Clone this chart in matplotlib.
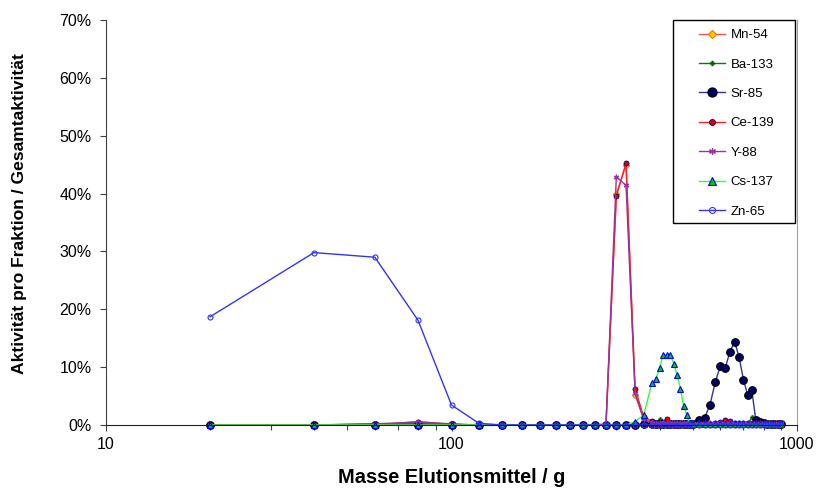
import matplotlib
matplotlib.use("Agg")
import matplotlib.pyplot as plt
from matplotlib.ticker import FuncFormatter, FixedLocator, NullFormatter
from matplotlib.patches import Rectangle

plt.rcParams["font.family"] = ["Liberation Sans", "DejaVu Sans"]

# fraction masses (g)
masse = ([20, 40, 60, 80, 100, 120, 140, 160, 180, 200, 220, 240, 260, 280,
          300, 320, 340, 360, 380]
         + [390, 400, 410, 420, 430, 440, 450, 460, 470, 480, 490, 500]
         + [520, 540, 560, 580, 600, 620, 640, 660, 680, 700, 720, 740, 760,
            780, 800, 820, 840, 860, 880, 900])

# activity per fraction / total activity (%)
mn54 = ([0, 0, 0, 0.3, 0.1, 0, 0, 0, 0, 0, 0, 0, 0, 0.1,
         40.0, 44.9, 5.2, 1.0, 0.5]
        + [0.3, 0.2, 0.2, 0.2, 0.2, 0.2, 0.2, 0.2, 0.2, 0.2, 0.2, 0.2]
        + [0.2, 0.2, 0.2, 0.2, 0.2, 0.3, 0.3, 0.2, 0.2, 0.2, 0.2, 0.2, 0.2,
           0.2, 0.2, 0.2, 0.2, 0.2, 0.2, 0.2])
ba133 = ([0, 0, 0.2, 0.2, 0.1, 0, 0, 0, 0, 0, 0, 0, 0, 0,
          0, 0, 0.1, 0.1, 0.1]
         + [0.1, 1.0, 0.2, 0.1, 0.1, 0.1, 0.1, 0.1, 0.1, 0.1, 0.1, 0.1]
         + [0.1, 0.1, 0.1, 0.1, 0.1, 0.1, 0.1, 0.1, 0.1, 0.1, 0.1, 1.3, 0.2,
            0.1, 0.1, 0.1, 0.1, 0.1, 0.1, 0.1])
sr85 = ([0, 0, 0, 0, 0, 0, 0, 0, 0, 0, 0, 0, 0, 0,
         0, 0, 0, 0.1, 0.1]
        + [0.1, 0.1, 0.1, 0.1, 0.1, 0.1, 0.1, 0.1, 0.1, 0.1, 0.1, 0.2]
        + [0.8, 1.2, 3.5, 7.4, 10.2, 9.9, 12.7, 14.4, 11.7, 7.8, 5.2, 6.0, 0.8,
           0.5, 0.3, 0.2, 0.2, 0.2, 0.2, 0.2])
ce139 = ([0, 0, 0, 0.6, 0.1, 0, 0, 0, 0, 0, 0, 0, 0, 0.1,
          39.5, 45.3, 6.3, 1.4, 0.7]
         + [0.4, 0.3, 0.5, 1.1, 0.3, 0.2, 0.2, 0.2, 0.2, 0.2, 0.2, 0.2]
         + [0.2, 0.2, 0.2, 0.3, 0.5, 0.9, 0.7, 0.3, 0.3, 0.3, 0.3, 0.3, 0.3,
            0.3, 0.3, 0.2, 0.2, 0.2, 0.2, 0.2])
y88 = ([0, 0, 0.2, 0.5, 0.2, 0, 0, 0, 0, 0, 0, 0, 0, 0.2,
        42.9, 41.4, 5.5, 1.0, 0.4]
       + [0.3, 0.3, 0.3, 0.3, 0.3, 0.3, 0.3, 0.3, 0.3, 0.3, 0.3, 0.3]
       + [0.3, 0.3, 0.3, 0.3, 0.3, 0.3, 0.3, 0.3, 0.3, 0.3, 0.3, 0.3, 0.3,
          0.3, 0.3, 0.3, 0.3, 0.3, 0.3, 0.3])
cs137 = ([0, 0, 0, 0, 0, 0, 0, 0, 0, 0, 0, 0, 0, 0,
          0, 0, 0.6, 1.7, 7.2]
         + [7.9, 9.8, 12.1, 12.1, 12.1, 10.6, 8.6, 6.2, 3.2, 1.7, 0.3, 0.1]
         + [0.1, 0.1, 0.1, 0.1, 0.1, 0.1, 0.1, 0.1, 0.1, 0.1, 0.1, 0.1, 0.1,
            0.1, 0.1, 0.1, 0.1, 0.1, 0.1, 0.1])
zn65 = ([18.7, 29.8, 29.0, 18.1, 3.45, 0.3, 0, 0, 0, 0, 0, 0, 0, 0,
         0, 0, 0, 0, 0]
        + [0, 0, 0, 0, 0, 0, 0, 0, 0, 0, 0, 0]
        + [0, 0, 0, 0, 0, 0, 0, 0, 0, 0, 0, 0, 0,
           0, 0, 0, 0, 0, 0, 0])

serien = [
    ("Mn-54", mn54, dict(color="#FF5050", marker="D", ms=3.2, mfc="#FFD000", mec="#FF7000", mew=0.8)),
    ("Ba-133", ba133, dict(color="#008000", marker="P", ms=3.0, mfc="#006000", mec="#006000", mew=0.3)),
    ("Sr-85", sr85, dict(color="#333399", marker="o", ms=5.5, mfc="#000066", mec="#000000", mew=0.8)),
    ("Ce-139", ce139, dict(color="#FF2020", marker="o", ms=3.6, mfc="#E00000", mec="#000080", mew=0.6)),
    ("Y-88", y88, dict(color="#993399", marker=(6, 2, 0), ms=4.0, mfc="#993399", mec="#993399", mew=0.9)),
    ("Cs-137", cs137, dict(color="#33FF33", marker="^", ms=4.5, mfc="#00CC00", mec="#0000FF", mew=0.8)),
    ("Zn-65", zn65, dict(color="#3333FF", marker="o", ms=3.6, mfc="none", mec="#3333FF", mew=0.8)),
]

fig = plt.figure(figsize=(8.17, 4.95), dpi=100)
ax = fig.add_axes([106 / 817, 1 - 425 / 495, (797 - 106) / 817, (425 - 20) / 495])

for name, werte, stil in serien:
    ax.plot(masse, werte, lw=1.0, label=name, clip_on=False, **stil)

ax.set_xscale("log")
ax.set_xlim(10, 1000)
ax.set_ylim(0, 70)
ax.yaxis.set_major_locator(FixedLocator(range(0, 71, 10)))
ax.yaxis.set_major_formatter(FuncFormatter(lambda v, p: f"{v:.0f}%"))
ax.xaxis.set_major_formatter(FuncFormatter(lambda v, p: f"{v:.0f}"))
ax.xaxis.set_minor_formatter(NullFormatter())

ax.spines["top"].set_visible(False)
ax.spines["right"].set_color("#A0A0A0")
ax.spines["left"].set_color("#404040")
ax.spines["bottom"].set_color("#202020")
ax.tick_params(axis="both", which="major", direction="out", length=4.5, width=0.8,
               color="#404040", labelsize=11.5, pad=4)
ax.tick_params(axis="x", which="minor", direction="out", length=3.5, width=0.8, color="#404040")
ax.tick_params(axis="y", pad=6)

ax.set_xlabel("Masse Elutionsmittel / g", fontsize=14.4, fontweight="bold", labelpad=12)
ax.set_ylabel("Aktivität pro Fraktion / Gesamtaktivität", fontsize=12.6, fontweight="bold")
ax.yaxis.set_label_coords(-0.114, 0.523)

# legend box
box = Rectangle((673 / 817, 1 - 223 / 495), 122 / 817, 203 / 495, transform=fig.transFigure,
                facecolor="white", edgecolor="black", lw=1.0, zorder=5)
fig.patches.append(box)
leg = fig.legend(loc="upper left", bbox_to_anchor=(699 / 817, 1 - 29 / 495),
                 bbox_transform=fig.transFigure, frameon=False, fontsize=9.5,
                 labelspacing=1.3, handlelength=2.0, handletextpad=0.4,
                 borderpad=0, borderaxespad=0, markerscale=1.2)
leg.set_zorder(6)

fig.savefig("out.png", dpi=100)
